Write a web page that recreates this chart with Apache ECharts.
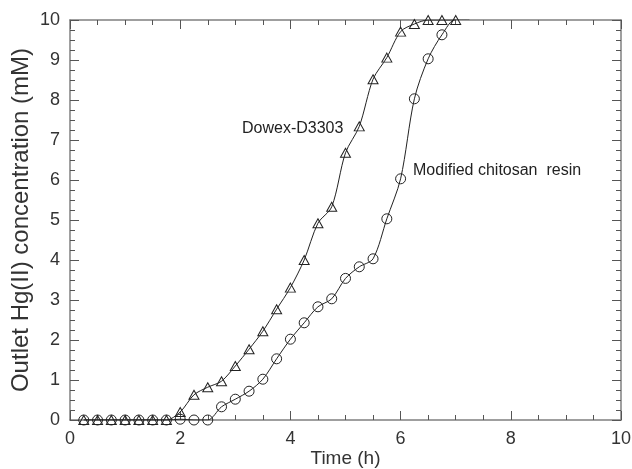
<!DOCTYPE html>
<html>
<head>
<meta charset="utf-8">
<script src="https://cdn.jsdelivr.net/npm/echarts@6/dist/echarts.min.js"></script>
<style>html,body{margin:0;padding:0;background:#fff}#c{width:632px;height:469px}</style>
</head>
<body>
<div id="c"></div>
<script>
var times = [0.25,0.5,0.75,1.0,1.25,1.5,1.75,2.0,2.25,2.5,2.75,3.0,3.25,3.5,3.75,4.0,4.25,4.5,4.75,5.0,5.25,5.5,5.75,6.0,6.25,6.5,6.75,7.0,7.25];
var dowexValues = [0,0,0,0,0,0,0,0.2,0.63,0.82,0.97,1.35,1.77,2.22,2.77,3.31,4.0,4.92,5.33,6.68,7.34,8.52,9.06,9.71,9.9,10,10,10];
var chitosanValues = [0,0,0,0,0,0,0,0.02,0,0,0.33,0.52,0.72,1.02,1.53,2.02,2.43,2.83,3.03,3.54,3.83,4.03,5.03,6.03,8.03,9.03,9.63,10.02,10.02];
var xTicks = [0,2,4,6,8,10];
var yTicks = [0,1,2,3,4,5,6,7,8,9,10];
var dowexLabel = 'Dowex-D3303';
var chitosanLabel = 'Modified chitosan  resin';

function pairs(xs, ys){ return ys.map(function(v,i){ return [xs[i], v]; }); }

var font = 'Liberation Sans, Arial, sans-serif';
var axisColor = '#808080';
var tickColor = '#555';
function xAxisCfg(pos, show){
  return {
    type:'value', position:pos, min:xTicks[0], max:xTicks[xTicks.length-1], interval:xTicks[1]-xTicks[0],
    axisLine:{show:true, onZero:false, lineStyle:{color:axisColor, width:1.5}},
    axisTick:{show:true, inside:true, length:9, lineStyle:{color:tickColor}},
    minorTick:{show:true, splitNumber:4, length:5, lineStyle:{color:tickColor}},
    axisLabel:{show:show, fontSize:18, color:'#333', fontFamily:font, margin:10},
    splitLine:{show:false},
    name: show ? 'Time (h)' : '', nameLocation:'middle', nameGap:29, nameMoveOverlap:false,
    nameTextStyle:{fontSize:19, color:'#333', fontFamily:font}
  };
}
function yAxisCfg(pos, show){
  return {
    type:'value', position:pos, min:yTicks[0], max:yTicks[yTicks.length-1], interval:yTicks[1]-yTicks[0],
    axisLine:{show:true, onZero:false, lineStyle:{color:axisColor, width:1.5}},
    axisTick:{show:true, inside:true, length:9, lineStyle:{color:tickColor}},
    minorTick:{show:true, splitNumber:4, length:5, lineStyle:{color:tickColor}},
    axisLabel:{show:show, fontSize:18, color:'#333', fontFamily:font, margin:10},
    splitLine:{show:false},
    name: show ? 'Outlet Hg(II) concentration (mM)' : '', nameLocation:'middle', nameGap:37, nameMoveOverlap:false,
    nameTextStyle:{fontSize:24, color:'#333', fontFamily:font}
  };
}

var chart = echarts.init(document.getElementById('c'), null, {renderer:'canvas'});
chart.setOption({
  animation:false,
  backgroundColor:'#fff',
  grid:{left:70, right:11, top:20, bottom:49, containLabel:false, outerBoundsMode:'none'},
  xAxis:[xAxisCfg('bottom', true), xAxisCfg('top', false)],
  yAxis:[yAxisCfg('left', true), yAxisCfg('right', false)],
  series:[
    {type:'line', name:dowexLabel, data:pairs(times, dowexValues), smooth:0.3,
     symbol:'triangle', symbolSize:[10,9], showAllSymbol:true,
     lineStyle:{color:'#222', width:1},
     itemStyle:{color:'rgba(0,0,0,0)', borderColor:'#222', borderWidth:1}},
    {type:'line', name:chitosanLabel, data:pairs(times, chitosanValues), smooth:0.3,
     symbol:'circle', symbolSize:10, showAllSymbol:true,
     lineStyle:{color:'#222', width:1},
     itemStyle:{color:'rgba(0,0,0,0)', borderColor:'#222', borderWidth:1}}
  ],
  graphic:[
    {type:'text', left:242, top:121, style:{text:dowexLabel, fontSize:16, fill:'#222', fontFamily:font}},
    {type:'text', left:413, top:163, style:{text:chitosanLabel, fontSize:16, fill:'#222', fontFamily:font}}
  ]
});
</script>
</body>
</html>
